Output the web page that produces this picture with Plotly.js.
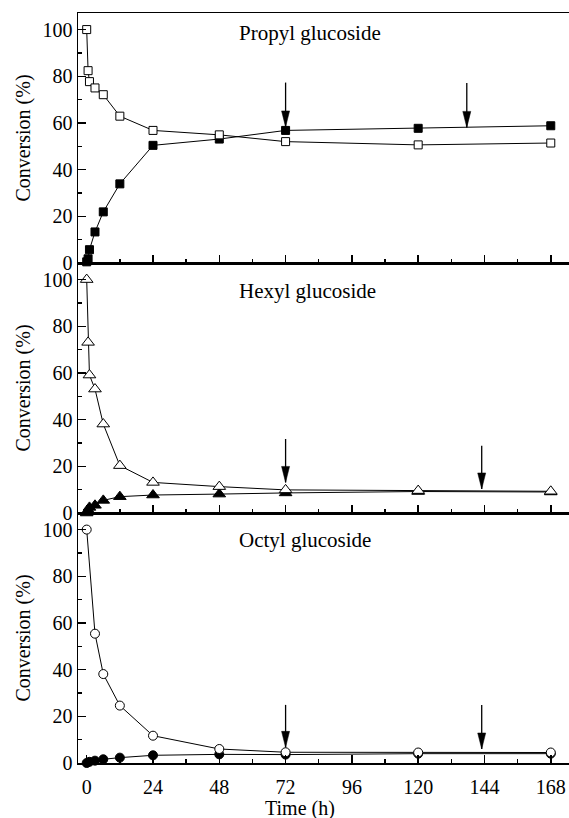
<!DOCTYPE html>
<html>
<head>
<meta charset="utf-8">
<script src="https://cdn.plot.ly/plotly-3.0.1.min.js"></script>
<style>html,body{margin:0;padding:0;background:#fff;}#chart{width:569px;height:818px;}</style>
</head>
<body>
<div id="chart"></div>
<script>
// ---- data ----
const timeFull = [0, 0.5, 1, 3, 6, 12, 24, 48, 72, 120, 168];
const propylOpen = [100, 82.4, 77.7, 75.0, 72.1, 62.9, 56.8, 54.9, 52.0, 50.6, 51.4];
const propylFilled = [0.5, 1.8, 5.7, 13.3, 21.9, 33.9, 50.4, 53.1, 56.8, 57.7, 58.8];
const hexylOpen = [100, 73.1, 59.1, 53.1, 38.1, 20.3, 13.1, 11.3, 9.9, 9.6, 9.3];
const hexylFilled = [0, 1.2, 2.4, 3.3, 5.4, 7.0, 7.7, 8.1, 8.6, 9.2, 9.0];
const octylOpenTime = [0, 3, 6, 12, 24, 48, 72, 120, 168];
const octylOpen = [100, 55.4, 38.1, 24.6, 11.7, 6.0, 4.6, 4.5, 4.5];
const octylFilledTime = [0, 1, 3, 6, 12, 24, 48, 72, 120, 168];
const octylFilled = [0, 0.5, 1.0, 1.6, 2.3, 3.3, 3.7, 3.6, 4.0, 4.0];

const panelLabels = ['Propyl glucoside', 'Hexyl glucoside', 'Octyl glucoside'];
const xTitle = 'Time (h)';
const yTitle = 'Conversion (%)';
const xTicks = [0, 24, 48, 72, 96, 120, 144, 168];

const propylArrowX = [72, 137.6], propylArrowTip = [58.3, 58.1], propylArrowTail = [77.3, 77.1];
const hexylArrowX = [72, 143], hexylArrowTip = [13.1, 10.3], hexylArrowTail = [31.7, 28.8];
const octylArrowX = [72, 143], octylArrowTip = [6.7, 6.0], octylArrowTail = [24.9, 24.9];

// ---- traces ----
const FONT = "'Liberation Serif', 'Times New Roman', serif";
function series(x, y, xa, ya, symbol, filled, size) {
  return {
    x: x, y: y, xaxis: xa, yaxis: ya, type: 'scatter', mode: 'lines+markers',
    cliponaxis: false, showlegend: false, hoverinfo: 'skip',
    line: {color: '#000', width: 1},
    marker: {symbol: symbol, size: size, color: filled ? '#000' : '#fff',
             line: {color: '#000', width: 1}}
  };
}
const traces = [
  series(timeFull, propylFilled, 'x3', 'y3', 'square', true, 8),
  series(timeFull, propylOpen, 'x3', 'y3', 'square', false, 8),
  series(timeFull, hexylFilled, 'x2', 'y2', 'triangle-up', true, 11),
  series(timeFull, hexylOpen, 'x2', 'y2', 'triangle-up', false, 11),
  series(octylFilledTime, octylFilled, 'x', 'y', 'circle', true, 9),
  series(octylOpenTime, octylOpen, 'x', 'y', 'circle', false, 9)
];

// ---- arrows (shapes) ----
const shapes = [];
function addArrows(xs, tips, tails, xref, yref) {
  xs.forEach((x, i) => {
    shapes.push({type: 'line', xref: xref, yref: yref, x0: x, x1: x, y0: tails[i], y1: tips[i],
                 line: {color: '#000', width: 1.3}});
    shapes.push({type: 'path', xref: xref, yref: yref, xsizemode: 'pixel', ysizemode: 'pixel',
                 xanchor: x, yanchor: tips[i], path: 'M0,0 L-4,16 L4,16 Z',
                 fillcolor: '#000', line: {color: '#000', width: 0.5}});
  });
}
addArrows(propylArrowX, propylArrowTip, propylArrowTail, 'x3', 'y3');
addArrows(hexylArrowX, hexylArrowTip, hexylArrowTail, 'x2', 'y2');
addArrows(octylArrowX, octylArrowTip, octylArrowTail, 'x', 'y');

// ---- axes ----
const axFont = {family: FONT, size: 20, color: '#000'};
function xAxis(anchor, labels) {
  const a = {
    anchor: anchor, domain: [0, 1], range: [-3.15, 174.6],
    tickmode: 'array', tickvals: xTicks, ticktext: xTicks.map(String),
    ticks: 'inside', ticklen: 8, tickwidth: 1.5, tickcolor: '#000',
    minor: {ticks: 'inside', ticklen: 4, dtick: 12, tick0: 0, tickwidth: 1.5, tickcolor: '#000', showgrid: false},
    showline: true, linecolor: '#000', linewidth: 1.5, mirror: true,
    showgrid: false, zeroline: false, showticklabels: labels,
    tickfont: axFont, fixedrange: true
  };
  if (labels) a.ticklabelstandoff = 5;
  return a;
}
function yAxis(anchor, domain) {
  return {
    anchor: anchor, domain: domain, range: [0, 107.1],
    tickmode: 'linear', tick0: 0, dtick: 20,
    ticks: 'inside', ticklen: 8, tickwidth: 1.5, tickcolor: '#000',
    minor: {ticks: 'inside', ticklen: 4, dtick: 10, tick0: 0, tickwidth: 1.5, tickcolor: '#000', showgrid: false},
    showline: true, linecolor: '#000', linewidth: 1.5, mirror: false,
    showgrid: false, zeroline: false, tickfont: axFont,
    title: {text: yTitle, font: axFont, standoff: 6},
    fixedrange: true
  };
}

const annotations = [
  {xref: 'x3', yref: 'y3', x: 54.3, y: 98.7, text: panelLabels[0]},
  {xref: 'x2', yref: 'y2', x: 54.3, y: 95.3, text: panelLabels[1]},
  {xref: 'x', yref: 'y', x: 54.3, y: 95.7, text: panelLabels[2]}
].map(a => Object.assign(a, {showarrow: false, xanchor: 'left', yanchor: 'middle',
                              font: {family: FONT, size: 21, color: '#000'}}));
annotations.push({xref: 'paper', yref: 'paper', x: 0.453, y: -0.06, text: xTitle,
                  showarrow: false, xanchor: 'center', yanchor: 'middle',
                  font: {family: FONT, size: 20, color: '#000'}});

const layout = {
  width: 569, height: 818,
  margin: {l: 78, r: 0, t: 13, b: 55},
  paper_bgcolor: '#fff', plot_bgcolor: '#fff',
  font: {family: FONT, color: '#000'},
  showlegend: false,
  xaxis: xAxis('y', true),
  xaxis2: Object.assign(xAxis('y2', false), {matches: 'x'}),
  xaxis3: Object.assign(xAxis('y3', false), {matches: 'x'}),
  yaxis: yAxis('x', [0, 1/3]),
  yaxis2: yAxis('x2', [1/3, 2/3]),
  yaxis3: yAxis('x3', [2/3, 1]),
  shapes: shapes,
  annotations: annotations
};

Plotly.newPlot('chart', traces, layout, {staticPlot: true, displayModeBar: false});
</script>
</body>
</html>
